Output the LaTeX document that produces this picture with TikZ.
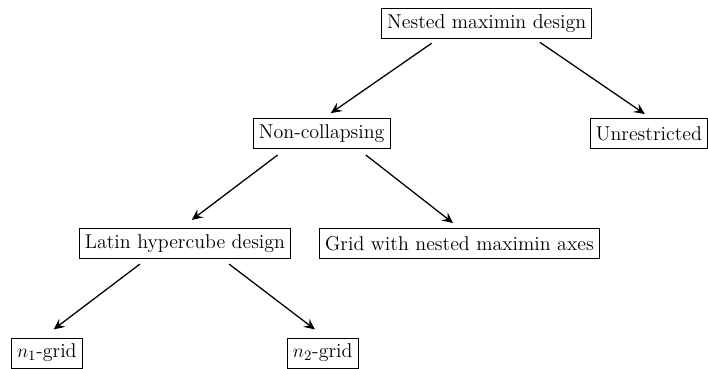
\documentclass[tikz,border=0pt]{standalone}
\usetikzlibrary{arrows.meta}
\begin{document}
\begin{tikzpicture}[
	box/.style={draw, rectangle, semithick, minimum height=0.66cm, inner xsep=3.6pt, font=\fontsize{12.5}{15}\selectfont},
	arr/.style={-{Stealth[length=2.4mm, width=2.2mm, inset=0.9mm]}, thick}]
	    \useasboundingbox (0,0) rectangle (15.58,8.10);
	    \node[box] (nmd) at (10.71, 7.58) {Nested maximin design};
	    \node[box] (nc) at (7.08, 5.16) {Non-collapsing};
	    \node[box] (un) at (14.28, 5.16) {Unrestricted};
	    \node[box] (lhd) at (4.07, 2.74) {Latin hypercube design};
	    \node[box] (grid) at (10.11, 2.74) {Grid with nested maximin axes};
	    \node[box] (n1) at (1.03, 0.33) {$n_1$-grid};
	    \node[box] (n2) at (7.10, 0.33) {$n_2$-grid};
	    \draw[arr] ([shift={(-1.21,-0.09)}]nmd.south) -- ([shift={(0.20,0.11)}]nc.north);
	    \draw[arr] ([shift={(1.17,-0.07)}]nmd.south) -- ([shift={(-0.09,0.09)}]un.north);
	    \draw[arr] ([shift={(-0.97,-0.13)}]nc.south) -- ([shift={(0.15,0.18)}]lhd.north);
	    \draw[arr] ([shift={(0.97,-0.13)}]nc.south) -- ([shift={(-0.14,0.11)}]grid.north);
	    \draw[arr] ([shift={(-0.99,-0.11)}]lhd.south) -- ([shift={(0.15,0.18)}]n1.north);
	    \draw[arr] ([shift={(0.97,-0.11)}]lhd.south) -- ([shift={(-0.17,0.18)}]n2.north);
	\end{tikzpicture}
\end{document}
